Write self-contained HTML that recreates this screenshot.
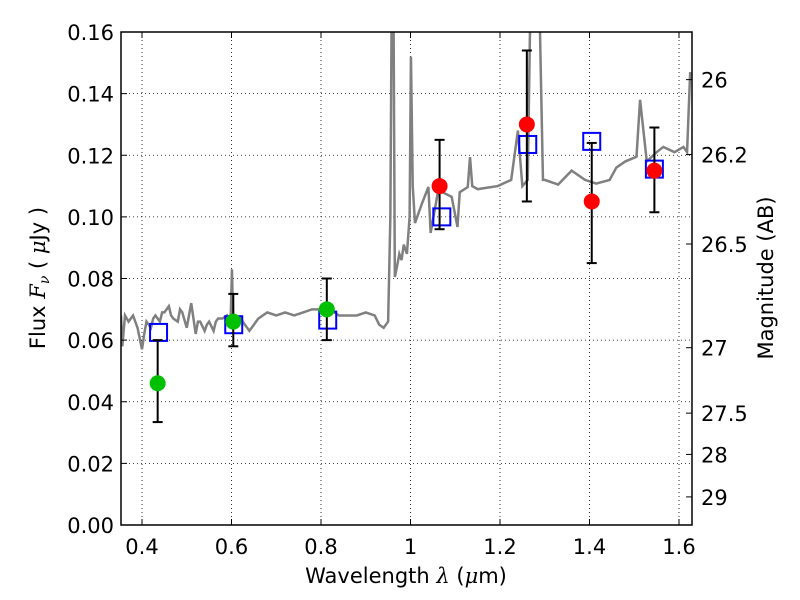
<!DOCTYPE html>
<html><head><meta charset="utf-8"><style>body{margin:0;background:#fff}svg{display:block}text{font-family:"DejaVu Sans","Liberation Sans",sans-serif;fill:#000}</style></head>
<body>
<svg id="chart" width="800" height="600" xmlns="http://www.w3.org/2000/svg"></svg>
<script>
const xTicks=[0.4,0.6,0.8,1.0,1.2,1.4,1.6];
const xTickLabels=["0.4","0.6","0.8","1","1.2","1.4","1.6"];
const yTicks=[0,0.02,0.04,0.06,0.08,0.1,0.12,0.14,0.16];
const yTickLabels=["0.00","0.02","0.04","0.06","0.08","0.10","0.12","0.14","0.16"];
const magTicks=[26,26.2,26.5,27,27.5,28,29];
const magTickLabels=["26","26.2","26.5","27","27.5","28","29"];
const specW=[0.353,0.356,0.362,0.370,0.380,0.390,0.400,0.405,0.410,0.420,0.425,0.430,0.440,0.445,0.450,0.460,0.465,0.470,0.480,0.485,0.490,0.500,0.505,0.510,0.520,0.525,0.530,0.540,0.545,0.550,0.560,0.565,0.570,0.580,0.590,0.598,0.601,0.604,0.620,0.640,0.660,0.680,0.700,0.720,0.740,0.760,0.780,0.800,0.820,0.840,0.860,0.880,0.900,0.920,0.930,0.940,0.950,0.955,0.958,0.962,0.965,0.970,0.975,0.980,0.985,0.992,0.998,1.001,1.005,1.010,1.026,1.040,1.045,1.062,1.092,1.105,1.110,1.128,1.133,1.138,1.150,1.195,1.225,1.240,1.250,1.262,1.268,1.280,1.288,1.296,1.300,1.330,1.360,1.390,1.415,1.445,1.460,1.480,1.505,1.513,1.528,1.550,1.565,1.590,1.610,1.618,1.625];
const specF=[0.068,0.058,0.068,0.066,0.068,0.064,0.057,0.062,0.066,0.064,0.067,0.068,0.066,0.069,0.069,0.071,0.068,0.067,0.066,0.070,0.069,0.064,0.068,0.072,0.062,0.066,0.066,0.063,0.065,0.066,0.063,0.066,0.067,0.067,0.068,0.066,0.083,0.064,0.067,0.063,0.067,0.069,0.068,0.069,0.068,0.069,0.070,0.070,0.070,0.068,0.068,0.068,0.069,0.068,0.065,0.064,0.066,0.100,0.170,0.170,0.0805,0.084,0.088,0.086,0.091,0.088,0.100,0.152,0.110,0.098,0.1045,0.1097,0.0948,0.1087,0.1065,0.0967,0.108,0.1097,0.1194,0.110,0.109,0.110,0.112,0.128,0.110,0.112,0.170,0.170,0.170,0.112,0.112,0.1105,0.115,0.112,0.1108,0.112,0.116,0.118,0.1195,0.138,0.118,0.121,0.1227,0.121,0.1227,0.121,0.147];
const greenW=[0.435,0.604,0.813];
const greenF=[0.046,0.066,0.070];
const greenLo=[0.0334,0.058,0.060];
const greenHi=[0.060,0.075,0.080];
const redW=[1.065,1.26,1.405,1.545];
const redF=[0.110,0.130,0.105,0.115];
const redLo=[0.096,0.105,0.085,0.1015];
const redHi=[0.125,0.154,0.124,0.129];
const boxW=[0.437,0.605,0.815,1.07,1.262,1.405,1.545];
const boxF=[0.0625,0.065,0.0665,0.100,0.1235,0.1245,0.1155];

const L=121,R=692,T=32,B=525;
const X=w=>142+(w-0.4)/0.2*89.5;
const Y=f=>B-(f/0.16)*(B-T);
const magF=m=>Math.pow(10,(23.9-m)/2.5);
const svg=document.getElementById('chart');
const NS='http://www.w3.org/2000/svg';
function mk(tag,attrs,parent){const e=document.createElementNS(NS,tag);for(const k in attrs)e.setAttribute(k,attrs[k]);(parent||svg).appendChild(e);return e;}

const grid=mk('g',{});


xTicks.forEach(t=>{mk('line',{x1:X(t),x2:X(t),y1:T,y2:B,stroke:'#000','stroke-width':0.8,'stroke-dasharray':'1,3'},grid);});
yTicks.forEach(t=>{mk('line',{x1:L,x2:R,y1:Y(t),y2:Y(t),stroke:'#000','stroke-width':0.8,'stroke-dasharray':'1,3'},grid);});

const clip=mk('clipPath',{id:'pc'});mk('rect',{x:L,y:T,width:R-L,height:B-T},clip);
const spec=mk('polyline',{points:specW.map((w,i)=>X(w)+','+Y(specF[i])).join(' '),fill:'none',stroke:'#808080','stroke-width':2.5,'clip-path':'url(#pc)'});



boxW.forEach((w,i)=>{const r=mk('rect',{x:X(w)-8.5,y:Y(boxF[i])-8.5,width:17,height:17,fill:'none',stroke:'#0000ff','stroke-width':2});

});

function pts(W,F,Lo,Hi,col,name){W.forEach((w,i)=>{const g=mk('g',{});


const x=X(w);mk('line',{x1:x,x2:x,y1:Y(Lo[i]),y2:Y(Hi[i]),stroke:'#000','stroke-width':2},g);
[Lo[i],Hi[i]].forEach(v=>mk('line',{x1:x-5,x2:x+5,y1:Y(v),y2:Y(v),stroke:'#000','stroke-width':2},g));
mk('circle',{cx:x,cy:Y(F[i]),r:8,fill:col},g);});}
pts(greenW,greenF,greenLo,greenHi,'#00c000','hst-point');
pts(redW,redF,redLo,redHi,'#ff0000','nir-point');

mk('rect',{x:L,y:T,width:R-L,height:B-T,fill:'none',stroke:'#000','stroke-width':1.5});
xTicks.forEach((t,i)=>{const x=X(t);mk('line',{x1:x,x2:x,y1:B,y2:B-6,stroke:'#000'});mk('line',{x1:x,x2:x,y1:T,y2:T+6,stroke:'#000'});
const tx=mk('text',{x:x,y:B+29,'text-anchor':'middle','font-size':21});tx.textContent=xTickLabels[i];

});
yTicks.forEach((t,i)=>{const y=Y(t);mk('line',{x1:L,x2:L+6,y1:y,y2:y,stroke:'#000'});
const tx=mk('text',{x:L-7,y:y+8,'text-anchor':'end','font-size':21});tx.textContent=yTickLabels[i];

});
magTicks.forEach((m,i)=>{const y=Y(magF(m));mk('line',{x1:R,x2:R-6,y1:y,y2:y,stroke:'#000'});
const tx=mk('text',{x:R+9,y:y+8,'font-size':21});tx.textContent=magTickLabels[i];

});
</script>
<svg style="position:absolute;left:0;top:0" width="800" height="600" xmlns="http://www.w3.org/2000/svg">
<text x="406" y="583" text-anchor="middle" font-size="21">Wavelength  <tspan font-style="italic" font-family="DejaVu Serif, serif">λ</tspan> (<tspan font-style="italic" font-family="DejaVu Serif, serif">μ</tspan>m)</text>
<text transform="translate(45,278) rotate(-90)" text-anchor="middle" font-size="21">Flux  <tspan font-style="italic" font-family="DejaVu Serif, serif">F</tspan><tspan font-style="italic" font-size="14" dy="4" font-family="DejaVu Serif, serif">ν</tspan><tspan dy="-4">  (  </tspan><tspan font-style="italic" font-family="DejaVu Serif, serif">μ</tspan>Jy )</text>
<text transform="translate(773,278) rotate(-90)" text-anchor="middle" font-size="21">Magnitude (AB)</text>
</svg>
</body></html>
